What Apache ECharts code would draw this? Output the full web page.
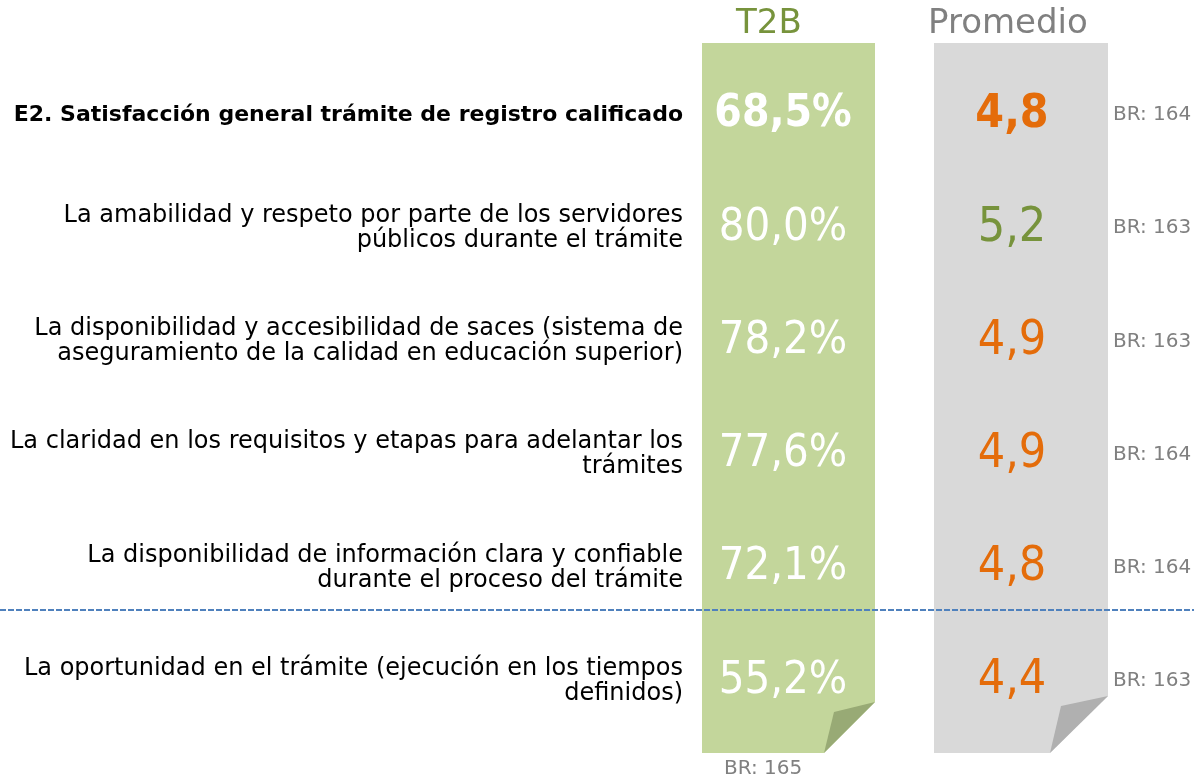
<!DOCTYPE html>
<html>
<head>
<meta charset="utf-8">
<script src="https://cdn.jsdelivr.net/npm/echarts@6/dist/echarts.min.js"></script>
<style>
  html, body { margin: 0; padding: 0; background: #fff; }
  #chart { width: 1194px; height: 781px; }
</style>
</head>
<body>
<div id="chart"></div>
<script>
// Filas (la primera es la pregunta general, en negrita)
const rowLabels = [
  'E2. Satisfacción general trámite de registro calificado',
  'La amabilidad y respeto por parte de los servidores\npúblicos durante el trámite',
  'La disponibilidad y accesibilidad de saces (sistema de\naseguramiento de la calidad en educación superior)',
  'La claridad en los requisitos y etapas para adelantar los\ntrámites',
  'La disponibilidad de información clara y confiable\ndurante el proceso del trámite',
  'La oportunidad en el trámite (ejecución en los tiempos\ndefinidos)'
];
const t2bValues = [68.5, 80.0, 78.2, 77.6, 72.1, 55.2];
const promedioValues = [4.8, 5.2, 4.9, 4.9, 4.8, 4.4];
const baseRows = [164, 163, 163, 164, 164, 163];
const baseT2B = 165;
const columnTitles = ['T2B', 'Promedio'];

const FONT = 'DejaVu Sans';
const NUM_FONT = '"DejaVu Sans Condensed", "DejaVu Sans"';
const GREEN = '#77933c';
const ORANGE = '#e46c0a';
const GREY_TXT = '#808080';

// columnas (px en el eje x, que va de 0 a 1194)
const LABEL_X = 683;
const T2B_COL = { x0: 702, x1: 875, fold: [824, 702, 834, 712], fill: '#c3d69b', foldFill: '#98aa75' };
const PROM_COL = { x0: 934, x1: 1108, fold: [1050, 696, 1061, 706], fill: '#d9d9d9', foldFill: '#b0b0b0' };
const T2B_TEXT_X = 783;
const PROM_TEXT_X = 1012;
const BR_X = 1113;

const fmt = v => v.toFixed(1).replace('.', ',');

const chart = echarts.init(document.getElementById('chart'), null, { renderer: 'canvas' });

function panelItem(params, api) {
  const c = params.dataIndex === 0 ? T2B_COL : PROM_COL;
  const top = api.coord([c.x0, -0.636])[1];
  const bot = api.coord([c.x0, 5.636])[1];
  const [fx, fy, ix, iy] = c.fold;
  return {
    type: 'group',
    children: [
      { type: 'polygon', shape: { points: [[c.x0, top], [c.x1, top], [c.x1, fy], [fx, bot], [c.x0, bot]] },
        style: { fill: c.fill } },
      { type: 'polygon', shape: { points: [[c.x1, fy], [ix, iy], [fx, bot]] },
        style: { fill: c.foldFill } }
    ]
  };
}

const textSeries = (name, data, label) => ({
  name,
  type: 'scatter',
  symbolSize: 0,
  z: 3,
  itemStyle: { opacity: 1 },
  emphasis: { disabled: true },
  data,
  label: Object.assign({ show: true }, label)
});

chart.setOption({
  animation: false,
  backgroundColor: '#fff',
  grid: { left: 0, right: 0, top: 43, bottom: 28 },
  xAxis: { type: 'value', min: 0, max: 1194, show: false },
  yAxis: { type: 'value', min: -0.636, max: 5.636, inverse: true, show: false },
  graphic: [
    { type: 'text', left: 736, top: 7, style: { text: columnTitles[0], fill: GREEN, font: '34px ' + FONT } },
    { type: 'text', left: 928, top: 7, style: { text: columnTitles[1], fill: GREY_TXT, font: '34px ' + FONT } },
    { type: 'text', left: 724, top: 759, style: { text: 'BR: ' + baseT2B, fill: GREY_TXT, font: '20px ' + FONT } }
  ],
  series: [
    {
      type: 'custom',
      renderItem: panelItem,
      data: [[T2B_COL.x0, 0], [PROM_COL.x0, 0]],
      silent: true,
      z: 1,
      markLine: {
        silent: true,
        symbol: 'none',
        label: { show: false },
        lineStyle: { color: '#4f81bd', type: [6, 2], width: 2 },
        data: [{ yAxis: 4.37 }],
        z: 10
      }
    },
    textSeries('labels', rowLabels.map((t, i) => [LABEL_X, i, t]), {
      position: 'left',
      distance: 0,
      align: 'right',
      verticalAlign: 'middle',
      color: '#000',
      fontFamily: FONT,
      fontSize: 24,
      lineHeight: 25,
      formatter: p => p.dataIndex === 0 ? '{b|' + p.value[2] + '}' : p.value[2],
      rich: { b: { fontWeight: 'bold', fontFamily: FONT, fontSize: 22, color: '#000' } }
    }),
    textSeries('T2B', t2bValues.map((v, i) => ({
      value: [T2B_TEXT_X, i, v],
      label: {
        color: '#fff', fontFamily: NUM_FONT,
        fontSize: i === 0 ? 44 : 45, fontWeight: i === 0 ? 'bold' : 'normal'
      }
    })), { position: 'inside', formatter: p => fmt(p.value[2]) + '%' }),
    textSeries('Promedio', promedioValues.map((v, i) => ({
      value: [PROM_TEXT_X, i, v],
      label: {
        color: v >= 5 ? GREEN : ORANGE, fontFamily: NUM_FONT,
        fontSize: i === 0 ? 46 : 48, fontWeight: i === 0 ? 'bold' : 'normal'
      }
    })), { position: 'inside', formatter: p => fmt(p.value[2]) }),
    textSeries('Base', baseRows.map((v, i) => [BR_X, i, v]), {
      position: 'right', distance: 0,
      color: GREY_TXT, fontFamily: FONT, fontSize: 20,
      padding: [4, 0, 0, 0],
      formatter: p => 'BR: ' + p.value[2]
    })
  ]
});
</script>
</body>
</html>
